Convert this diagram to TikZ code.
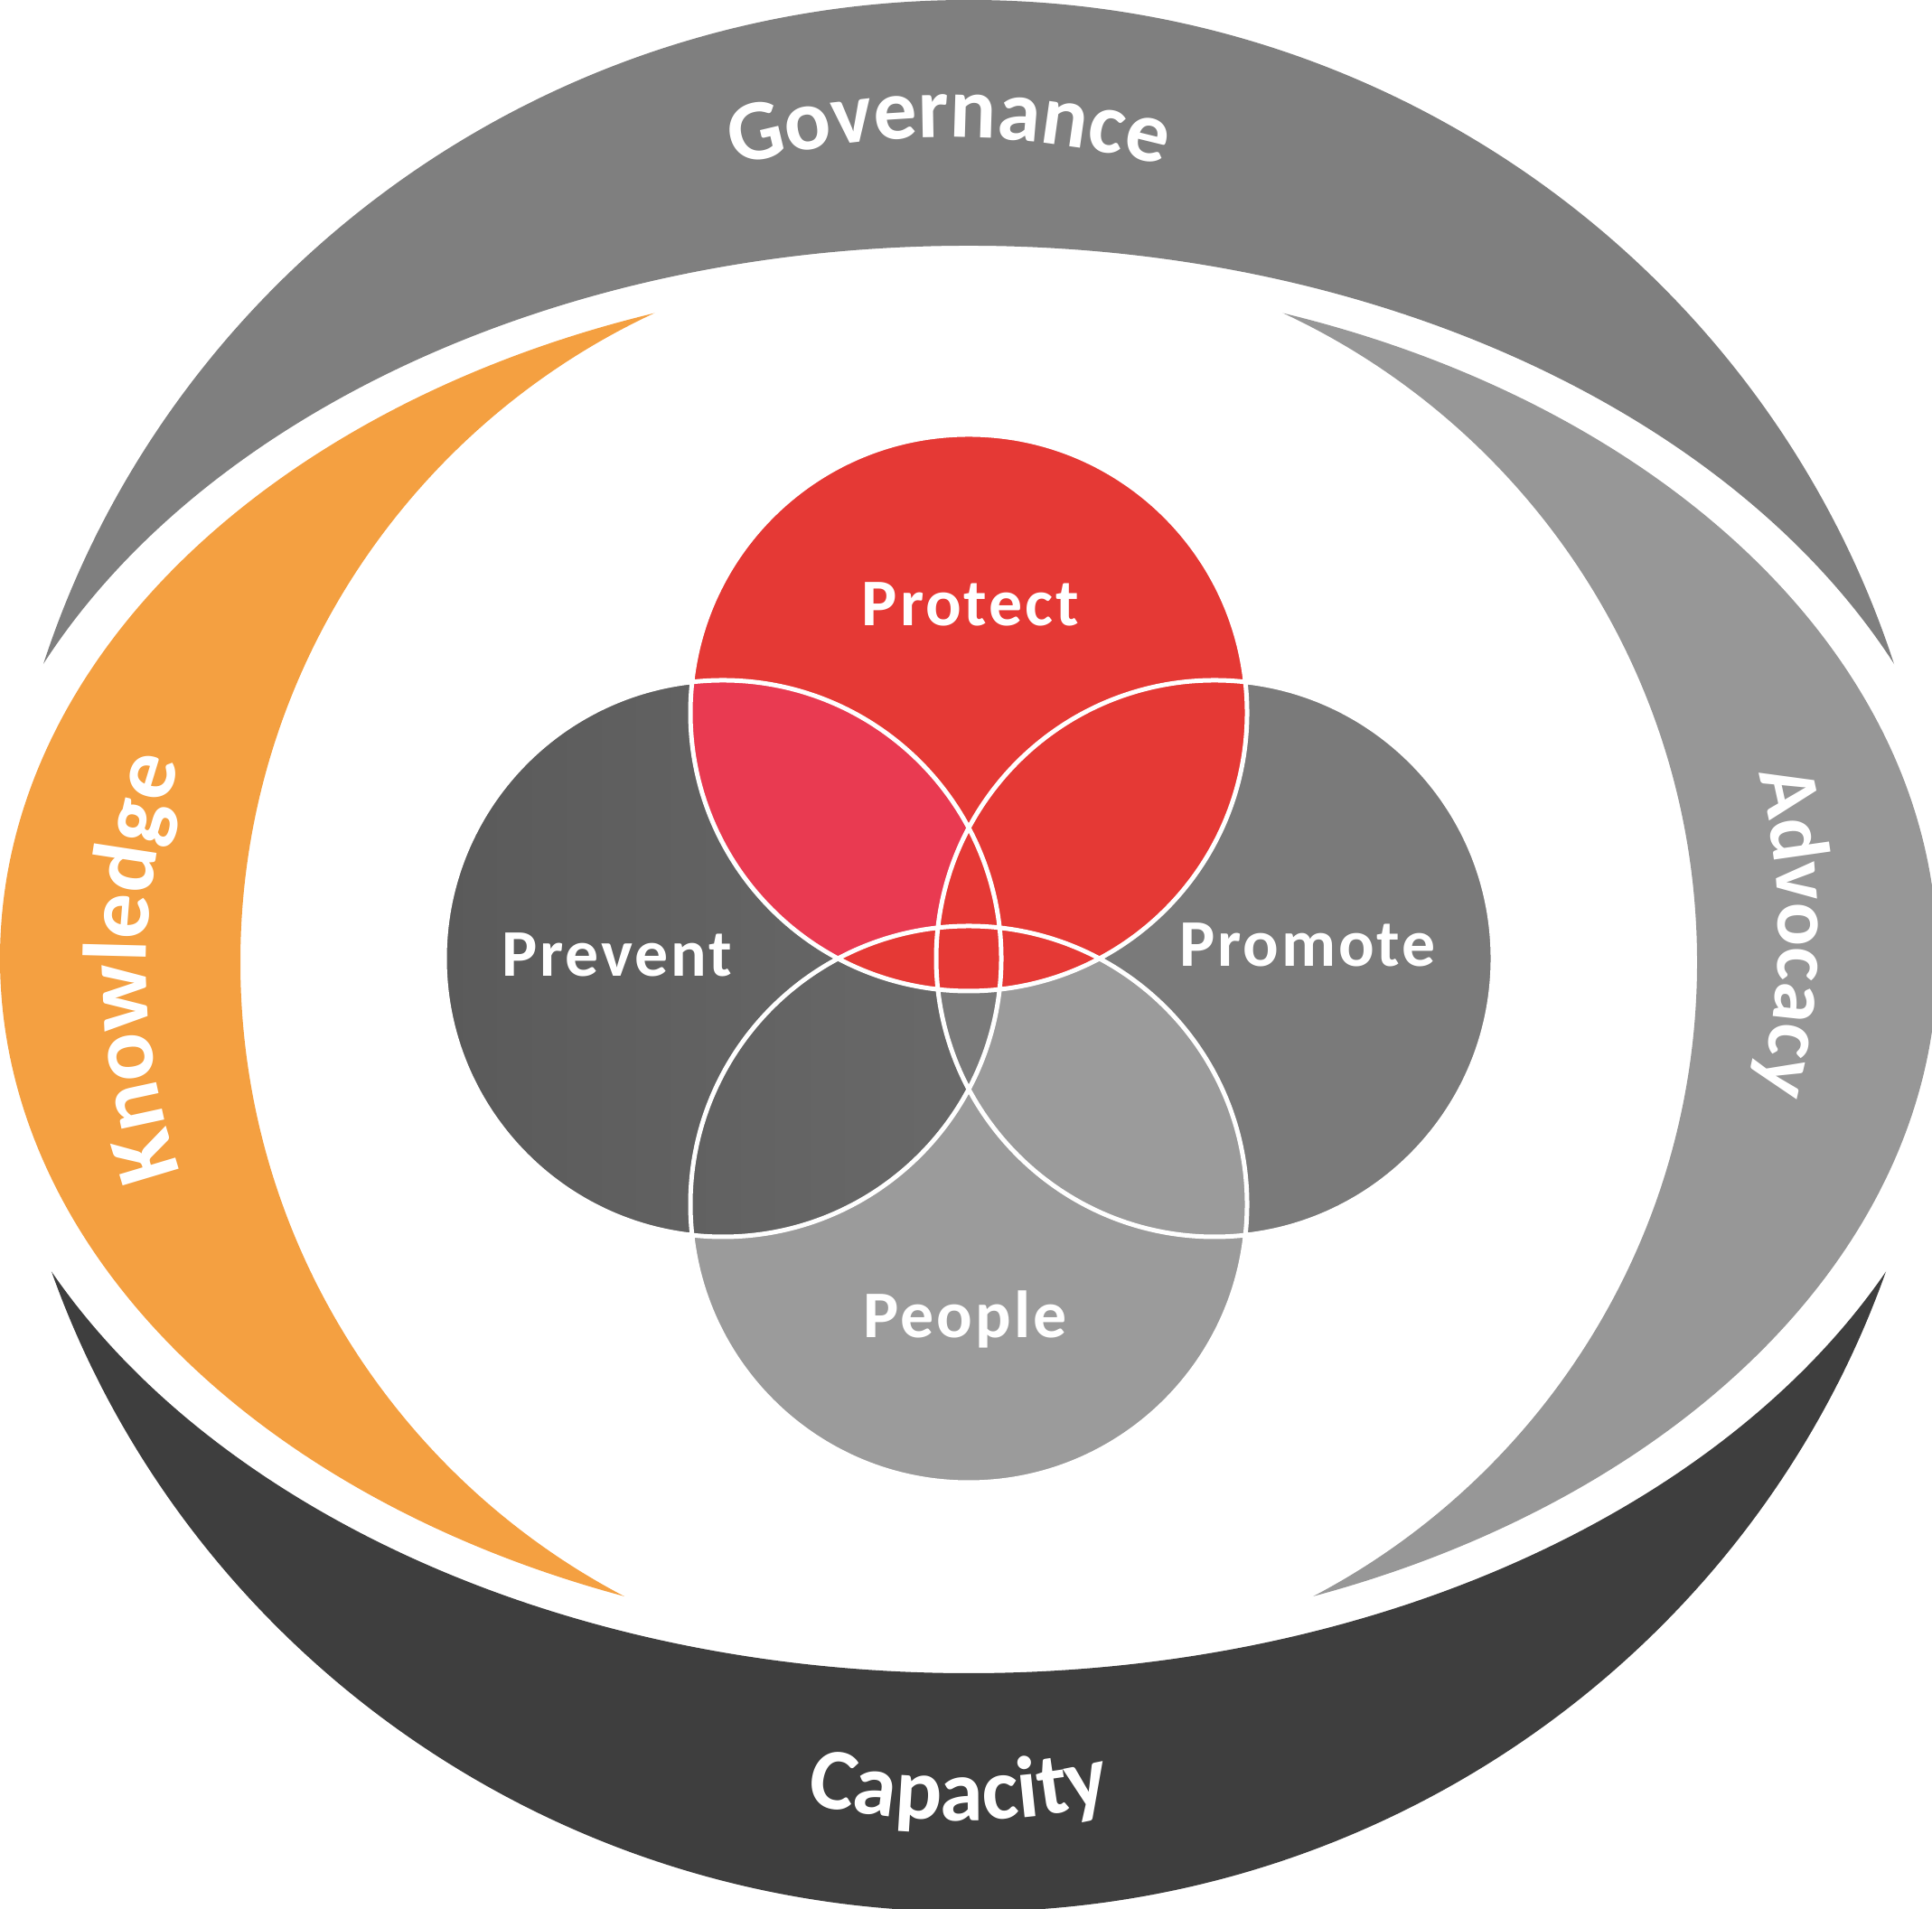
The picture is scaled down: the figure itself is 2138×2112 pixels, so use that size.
\documentclass[tikz,border=0pt]{standalone}
\usepackage{fontspec}
\setmainfont{Carlito}
\newfontfamily\vennfamily[LetterSpace=4]{Carlito}
\usetikzlibrary{decorations.text}
\definecolor{protectred}{HTML}{E53935}
\definecolor{lenspink}{HTML}{E93A51}
\definecolor{preventdark}{HTML}{5A5A5A}
\definecolor{preventlight}{HTML}{6A6A6A}
\definecolor{promotegray}{HTML}{7A7A7A}
\definecolor{peoplegray}{HTML}{9B9B9B}
\definecolor{govgray}{HTML}{7F7F7F}
\definecolor{capgray}{HTML}{3E3E3E}
\definecolor{knoworange}{HTML}{F4A041}
\definecolor{advgray}{HTML}{979797}
\newcommand{\vennr}{308}
\tikzset{
  venntext/.style={text=white, font=\vennfamily\bfseries\fontsize{21}{24}\selectfont, anchor=base, inner sep=0pt},
  outline/.style={draw=white, line width=0.5mm},
  ringtext/.style 2 args={decorate, decoration={text along path, text align=center,
      text={|\bfseries\fontsize{#1}{#1}\selectfont\color{white}|#2}}}
}
\begin{document}
\begin{tikzpicture}[x=0.1mm, y=0.1mm]
  \useasboundingbox (0,0) rectangle (2138,2112);
  % centres of the four circles
  \coordinate (protectc) at (1072,1323);
  \coordinate (preventc) at (800,1051);
  \coordinate (promotec) at (1344,1051);
  \coordinate (peoplec) at (1072,779);

  % governance and capacity bands
  \begin{scope}
    \clip (1072,1054) ellipse [x radius=1075, y radius=1058];
    \clip (-10,1054) rectangle (2150,2120);
    \fill[govgray, even odd rule] (-20,1000) rectangle (2160,2130)
      (1072,1054) ellipse [x radius=1123, y radius=786];
  \end{scope}
  \begin{scope}
    \clip (1072,1054) ellipse [x radius=1075, y radius=1058];
    \clip (-10,-10) rectangle (2150,1054);
    \fill[capgray, even odd rule] (-20,-20) rectangle (2160,1100)
      (1072,1040) ellipse [x radius=1124, y radius=780];
  \end{scope}

  % knowledge and advocacy bands
  \begin{scope}
    \clip (1072,1051) ellipse [x radius=1072, y radius=755];
    \clip (-10,-10) rectangle (1072,2120);
    \fill[knoworange, even odd rule] (-20,-20) rectangle (1100,2130)
      (1058,1047) circle [radius=792];
  \end{scope}
  \begin{scope}
    \clip (1072,1051) ellipse [x radius=1072, y radius=755];
    \clip (1072,-10) rectangle (2150,2120);
    \fill[advgray, even odd rule] (1040,-20) rectangle (2160,2130)
      (1086,1047) circle [radius=792];
  \end{scope}

  \path[ringtext={27.3pt}{Governance}] (1050,1060) ++(120:900) arc [start angle=120, end angle=60, radius=900];
  \path[ringtext={27.5pt}{Capacity}] (1061,847) ++(240:750) arc [start angle=240, end angle=300, radius=750];
  \path[ringtext={28.4pt}{Knowledge}] (862,1041) ++(210:700) arc [start angle=210, end angle=150, radius=700];
  \path[ringtext={25.6pt}{Advocacy}] (1268,1080) ++(30:700) arc [start angle=30, end angle=-30, radius=700];

  % the four circles
  \fill[promotegray] (promotec) circle [radius=\vennr];
  \fill[peoplegray] (peoplec) circle [radius=\vennr];
  \shade[left color=preventdark, right color=preventlight] (preventc) circle [radius=\vennr];
  \begin{scope}
    \clip (preventc) circle [radius=\vennr];
    \clip (peoplec) circle [radius=\vennr];
    \fill[promotegray] (promotec) circle [radius=\vennr];
  \end{scope}
  \fill[protectred] (protectc) circle [radius=\vennr];
  \begin{scope}
    \clip (protectc) circle [radius=\vennr];
    \clip (preventc) circle [radius=\vennr];
    \fill[lenspink] (preventc) circle [radius=\vennr];
    \fill[protectred] (promotec) circle [radius=\vennr] (peoplec) circle [radius=\vennr];
  \end{scope}
  \foreach \c in {protectc, preventc, promotec, peoplec}
    \draw[outline] (\c) circle [radius=\vennr];

  \node[venntext] (protect) at (1074,1419) {Protect};
  \node[venntext] (prevent) at (683,1031) {Prevent};
  \node[venntext] (promote) at (1447,1042) {Promote};
  \node[venntext] (people) at (1068,631) {People};
\end{tikzpicture}
\end{document}
